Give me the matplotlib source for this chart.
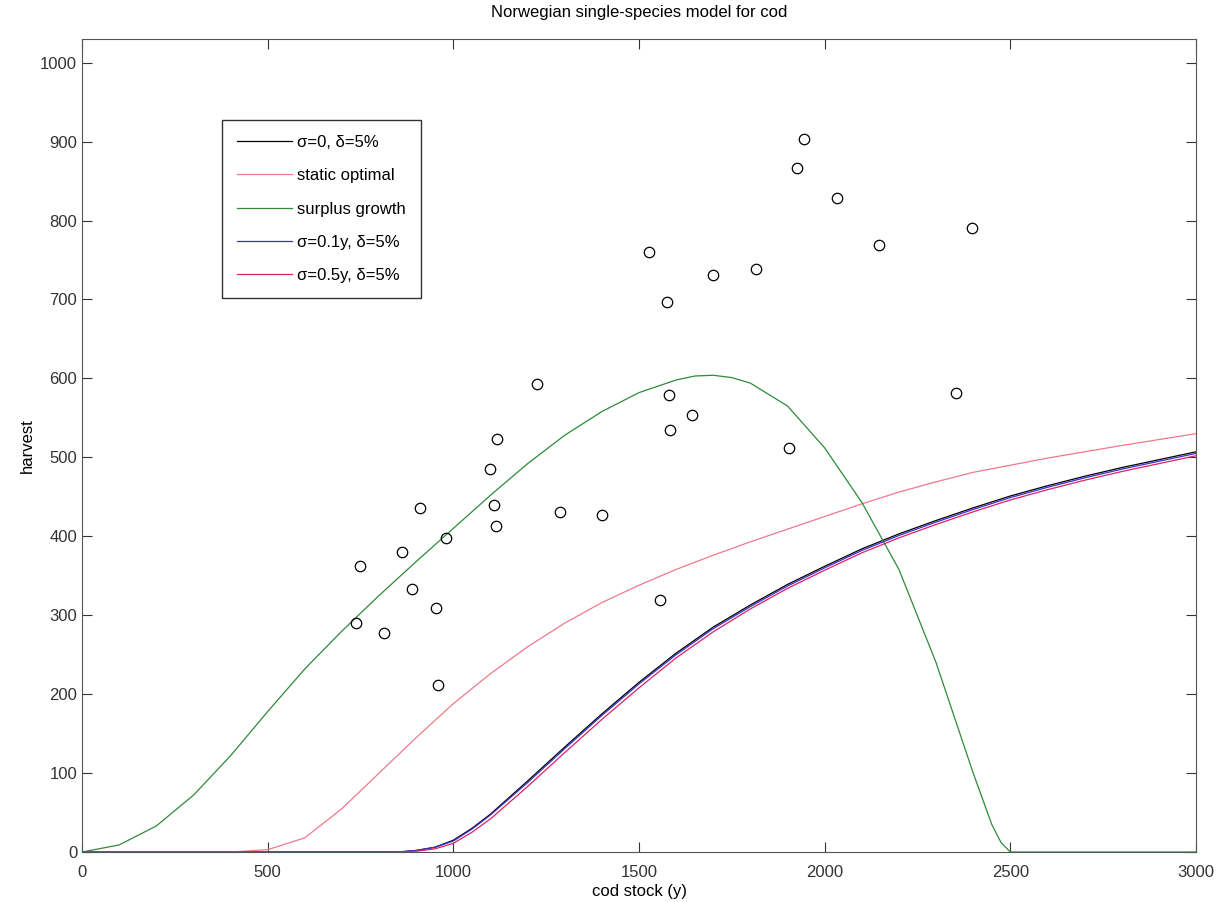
import numpy as np
import matplotlib.pyplot as plt

plt.rcParams['font.family'] = ['Liberation Sans', 'DejaVu Sans']

# observed stock / harvest pairs
obs_stock = [738, 749, 813, 862, 889, 910, 953, 959, 980, 1099, 1110, 1115, 1118,
             1225, 1287, 1400, 1527, 1556, 1575, 1581, 1584, 1642, 1700, 1815,
             1904, 1926, 1944, 2033, 2147, 2354, 2397]
obs_harvest = [290, 362, 278, 380, 333, 436, 309, 212, 398, 485, 440, 413, 523,
               593, 431, 427, 760, 319, 697, 579, 535, 554, 731, 738,
               512, 866, 903, 828, 769, 582, 791]

# surplus growth curve
grow_x = [0, 100, 200, 300, 400, 500, 600, 700, 800, 900, 1000, 1100, 1200, 1300,
          1400, 1500, 1600, 1650, 1700, 1750, 1800, 1900, 2000, 2100, 2200, 2300,
          2350, 2400, 2450, 2475, 2500, 3000]
grow_y = [0, 9, 33, 72, 122, 178, 232, 280, 325, 368, 410, 452, 492, 528,
          558, 582, 598, 603, 604, 601, 594, 565, 512, 443, 358, 240,
          170, 100, 35, 12, 0, 0]

# static optimal harvest
stat_x = [0, 400, 500, 600, 700, 800, 900, 1000, 1100, 1200, 1300, 1400, 1500,
          1600, 1700, 1800, 1900, 2000, 2100, 2200, 2300, 2400, 2500, 2600,
          2800, 3000]
stat_y = [0, 0, 3, 18, 55, 100, 145, 188, 226, 260, 290, 316, 338,
          358, 376, 393, 409, 425, 441, 456, 469, 481, 490, 499,
          515, 530]

# dynamic optimal harvest, three noise levels
dyn_x = [0, 850, 900, 950, 1000, 1050, 1100, 1200, 1300, 1400, 1500, 1600, 1700,
         1800, 1900, 2000, 2100, 2200, 2300, 2400, 2500, 2600, 2700, 2800, 2900, 3000]
dyn_s0 = [0, 0, 2, 6, 15, 30, 48, 90, 133, 175, 215, 252, 285,
          313, 339, 362, 384, 403, 420, 436, 451, 464, 476, 487, 497, 507]
dyn_s01 = [0, 0, 2, 6, 14, 29, 47, 88, 131, 173, 213, 250, 283,
           311, 337, 360, 382, 401, 418, 434, 449, 462, 474, 485, 495, 505]
dyn_s05 = [0, 0, 1, 4, 11, 25, 42, 83, 126, 168, 208, 246, 279,
           308, 334, 357, 379, 398, 415, 431, 446, 459, 471, 482, 492, 502]

fig = plt.figure(figsize=(12.21, 9.02), dpi=100)
ax = fig.add_axes([0.0672, 0.0554, 0.9123, 0.9014])

ax.plot(dyn_x, dyn_s0, color='black', lw=0.9, label='σ=0, δ=5%')
ax.plot(stat_x, stat_y, color='#f07a8a', lw=0.9, label='static optimal')
ax.plot(grow_x, grow_y, color='#2e8b3a', lw=0.9, label='surplus growth')
ax.plot(dyn_x, dyn_s01, color='#3333cc', lw=0.9, label='σ=0.1y, δ=5%')
ax.plot(dyn_x, dyn_s05, color='#e0206a', lw=0.9, label='σ=0.5y, δ=5%')
ax.plot(obs_stock, obs_harvest, 'o', mfc='none', mec='black', ms=7.5, mew=0.9)

ax.set_xlim(0, 3000)
ax.set_ylim(0, 1030)
ax.set_xticks(range(0, 3001, 500))
ax.set_yticks(range(0, 1001, 100))
ax.tick_params(direction='in', top=True, right=True, labelsize=12, length=7,
               colors='#333333')
ax.tick_params(axis='x', pad=9)
for s in ax.spines.values():
    s.set_color('#555555')

ax.set_xlabel('cod stock (y)', fontsize=12, labelpad=3)
ax.set_ylabel('harvest', fontsize=12)
ax.set_title('Norwegian single-species model for cod', fontsize=12, pad=16)

leg = ax.legend(loc='upper left', bbox_to_anchor=(0.1257, 0.9004), fontsize=12,
                fancybox=False, edgecolor='black', handlelength=3.3,
                handletextpad=0.3, labelspacing=1.1, borderpad=0.9,
                borderaxespad=0)
leg.get_frame().set_linewidth(1.0)

fig.savefig('out.png', dpi=100)
